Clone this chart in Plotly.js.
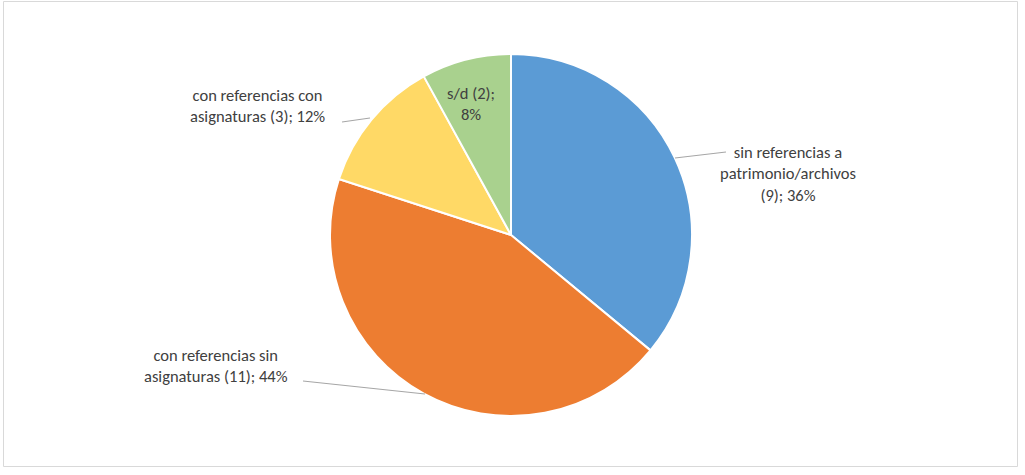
<!DOCTYPE html>
<html><head><meta charset="utf-8">
<script src="https://cdn.plot.ly/plotly-3.0.1.min.js"></script>
<style>html,body{margin:0;padding:0;background:#fff}#chart{width:1025px;height:475px}</style>
</head><body><div id="chart"></div>
<script>
const categories = ["sin referencias a patrimonio/archivos", "con referencias sin asignaturas", "con referencias con asignaturas", "s/d"];
const labelLines = ["sin referencias a<br>patrimonio/archivos<br>", "con referencias sin<br>asignaturas ", "con referencias con<br>asignaturas ", "s/d "];
const values = [9, 11, 3, 2];
const colors = ["#5B9BD5", "#ED7D31", "#FFD966", "#A9D18E"];

const W = 1025, H = 475;
const px = (x) => x / W, py = (y) => 1 - y / H;
const total = values.reduce((a, b) => a + b, 0);
const pct = values.map(v => Math.round(100 * v / total) + "%");
const texts = values.map((v, i) => labelLines[i] + "(" + v + "); " + pct[i]);
texts[3] = "s/d (" + values[3] + ");<br>" + pct[3];

const labelPos = [[788, 173], [216, 365], [257, 105], [471, 103]];
const font = {family: "Carlito, Calibri, Lato, 'Liberation Sans', sans-serif", size: 16.5, color: "#404040"};

const annotations = texts.map((t, i) => ({
  x: px(labelPos[i][0]), y: py(labelPos[i][1]), xref: "paper", yref: "paper",
  text: t, showarrow: false, align: "center", xanchor: "center", yanchor: "middle", font: font
}));

const leaders = [
  [[675, 158], [726, 152]],
  [[425, 394], [303, 381]],
  [[370, 118], [342, 122]]
];
const shapes = leaders.map(l => ({
  type: "line", xref: "paper", yref: "paper",
  x0: px(l[0][0]), y0: py(l[0][1]), x1: px(l[1][0]), y1: py(l[1][1]),
  line: {color: "#A6A6A6", width: 1.2}
}));
shapes.push({type: "rect", xref: "paper", yref: "paper", x0: px(3.5), x1: px(1017.5), y0: py(1.5), y1: py(466.5),
  line: {color: "#D9D9D9", width: 1}, fillcolor: "rgba(0,0,0,0)"});

const cx = 511, cy = 235, r = 181;
const trace = {
  type: "pie", labels: categories, values: values, sort: false, direction: "clockwise", rotation: 0,
  marker: {colors: colors, line: {color: "#FFFFFF", width: 2}},
  textinfo: "none", hoverinfo: "label+value+percent",
  domain: {x: [px(cx - r), px(cx + r)], y: [py(cy + r), py(cy - r)]}
};

Plotly.newPlot("chart", [trace], {
  width: W, height: H, margin: {l: 0, r: 0, t: 0, b: 0},
  paper_bgcolor: "#FFFFFF", showlegend: false, annotations: annotations, shapes: shapes
}, {displayModeBar: false, staticPlot: true});
</script></body></html>
